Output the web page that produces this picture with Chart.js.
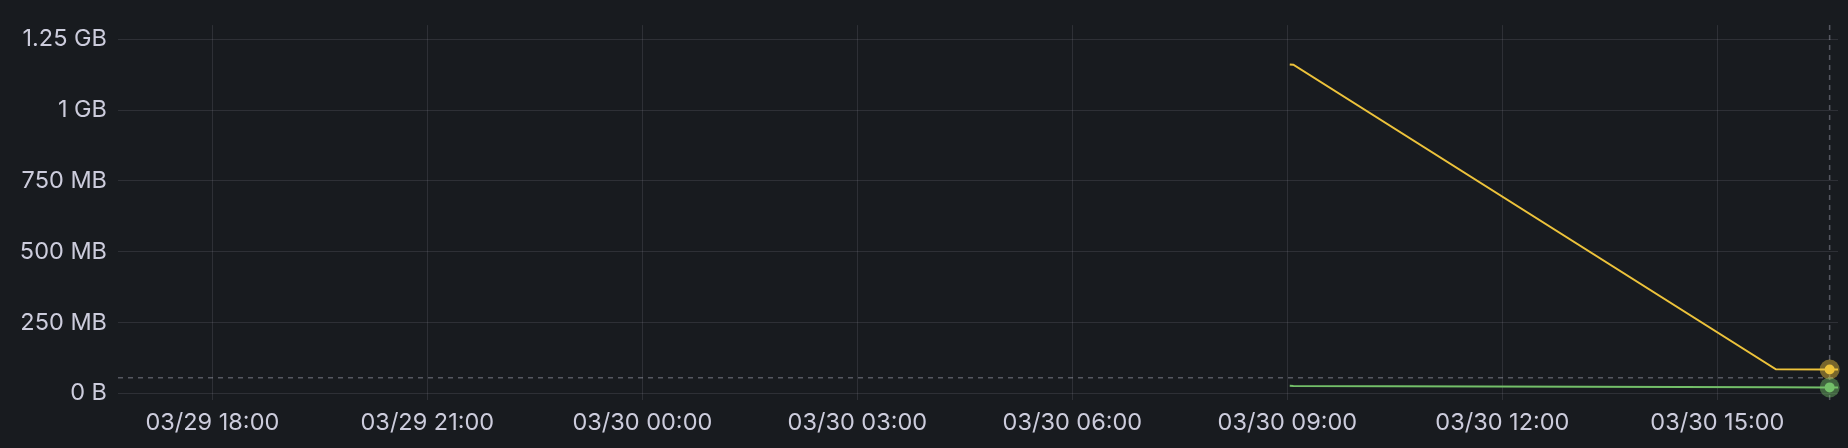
<!DOCTYPE html>
<html lang="en">
<head>
  <meta charset="UTF-8" />
  <title>Memory</title>
  <script src="https://cdn.jsdelivr.net/npm/chart.js"></script>
  <style>
    html, body { margin: 0; padding: 0; background: #181b1f; }
    #wrap { width: 1848px; height: 448px; }
  </style>
</head>
<body>
  <div id="wrap"><canvas id="chart" width="1848" height="448"></canvas></div>

  <script>
    // time range shown (last 24h)
    const RANGE = ["03/29 16:41", "03/30 16:41"];
    const X_TICKS = ["03/29 18:00", "03/29 21:00", "03/30 00:00", "03/30 03:00",
                     "03/30 06:00", "03/30 09:00", "03/30 12:00", "03/30 15:00"];
    const Y_TICKS = [0, 250e6, 500e6, 750e6, 1e9, 1.25e9];

    // series (bytes)
    const times = ["03/30 09:02", "03/30 09:05", "03/30 15:49", "03/30 16:34", "03/30 16:41"];
    const yellowSeries = [1161e6, 1160e6, 85e6, 84e6, 84e6];
    const greenSeries = [26.5e6, 26e6, 21.5e6, 21e6, 21e6];

    // hover state in the screenshot
    const hoverTime = "03/30 16:34";
    const cursorValue = 55e6;

    // "MM/DD HH:MM" -> minutes since 03/29 00:00
    function toMin(s) {
      const [d, t] = s.split(" ");
      const day = parseInt(d.split("/")[1], 10) - 29;
      const [h, m] = t.split(":").map(Number);
      return day * 1440 + h * 60 + m;
    }
    function fmtMin(v) {
      const day = 29 + Math.floor(v / 1440);
      const rest = v - (day - 29) * 1440;
      const h = String(Math.floor(rest / 60)).padStart(2, "0");
      const m = String(rest % 60).padStart(2, "0");
      return "03/" + day + " " + h + ":" + m;
    }
    function fmtBytes(v) {
      if (v === 0) return "0 B";
      if (v >= 1e9) return (+(v / 1e9).toFixed(2)) + " GB";
      return (+(v / 1e6).toFixed(0)) + " MB";
    }

    const grid = "rgba(204,204,220,0.12)";
    const text = "#ccccdc";

    const hoverPlugin = {
      id: "hover",
      afterDatasetsDraw(chart) {
        const { ctx, chartArea: a, scales } = chart;
        const x = scales.x.getPixelForValue(toMin(hoverTime));
        const y = scales.y.getPixelForValue(cursorValue);
        ctx.save();
        ctx.strokeStyle = "rgba(204,204,220,0.35)";
        ctx.lineWidth = 1.5;
        ctx.setLineDash([5, 5]);
        ctx.beginPath();
        ctx.moveTo(x, a.top);
        ctx.lineTo(x, a.bottom);
        ctx.moveTo(a.left, y);
        ctx.lineTo(a.right, y);
        ctx.stroke();
        ctx.setLineDash([]);
        const idx = times.indexOf(hoverTime);
        chart.data.datasets.forEach((ds, i) => {
          const el = chart.getDatasetMeta(i).data[idx];
          ctx.fillStyle = ds.haloColor;
          ctx.beginPath();
          ctx.arc(el.x, el.y, 10, 0, Math.PI * 2);
          ctx.fill();
          ctx.fillStyle = ds.borderColor;
          ctx.beginPath();
          ctx.arc(el.x, el.y, 5, 0, Math.PI * 2);
          ctx.fill();
        });
        ctx.restore();
      }
    };

    Chart.defaults.font.family = "Inter, 'Noto Sans', sans-serif";
    Chart.defaults.font.size = 23.5;
    Chart.defaults.color = text;

    new Chart(document.getElementById("chart"), {
      type: "line",
      data: {
        datasets: [
          {
            data: times.map((t, i) => ({ x: toMin(t), y: yellowSeries[i] })),
            borderColor: "#edc33b",
            haloColor: "rgba(237,195,59,0.45)",
            borderWidth: 2,
            pointRadius: 0,
            tension: 0
          },
          {
            data: times.map((t, i) => ({ x: toMin(t), y: greenSeries[i] })),
            borderColor: "#73bf69",
            haloColor: "rgba(115,191,105,0.45)",
            borderWidth: 2,
            pointRadius: 0,
            tension: 0
          }
        ]
      },
      options: {
        responsive: false,
        devicePixelRatio: 1,
        animation: false,
        events: [],
        layout: { padding: { top: 23, right: 10, left: 0, bottom: 0 } },
        plugins: { legend: { display: false }, tooltip: { enabled: false } },
        scales: {
          x: {
            type: "linear",
            min: toMin(RANGE[0]),
            max: toMin(RANGE[1]),
            afterBuildTicks: s => { s.ticks = X_TICKS.map(t => ({ value: toMin(t) })); },
            afterFit: s => { s.height = 48; },
            grid: { color: grid, drawTicks: false, lineWidth: 1 },
            border: { display: false },
            ticks: { padding: 9, maxRotation: 0, autoSkip: false, callback: v => fmtMin(v) }
          },
          y: {
            min: -23.5e6,
            max: 1.3e9,
            afterBuildTicks: s => { s.ticks = Y_TICKS.map(v => ({ value: v })); },
            afterFit: s => { s.width = 118; },
            grid: { color: grid, drawTicks: false, lineWidth: 1 },
            border: { display: false },
            ticks: { padding: 11, callback: v => fmtBytes(v) }
          }
        }
      },
      plugins: [hoverPlugin]
    });
  </script>
</body>
</html>
